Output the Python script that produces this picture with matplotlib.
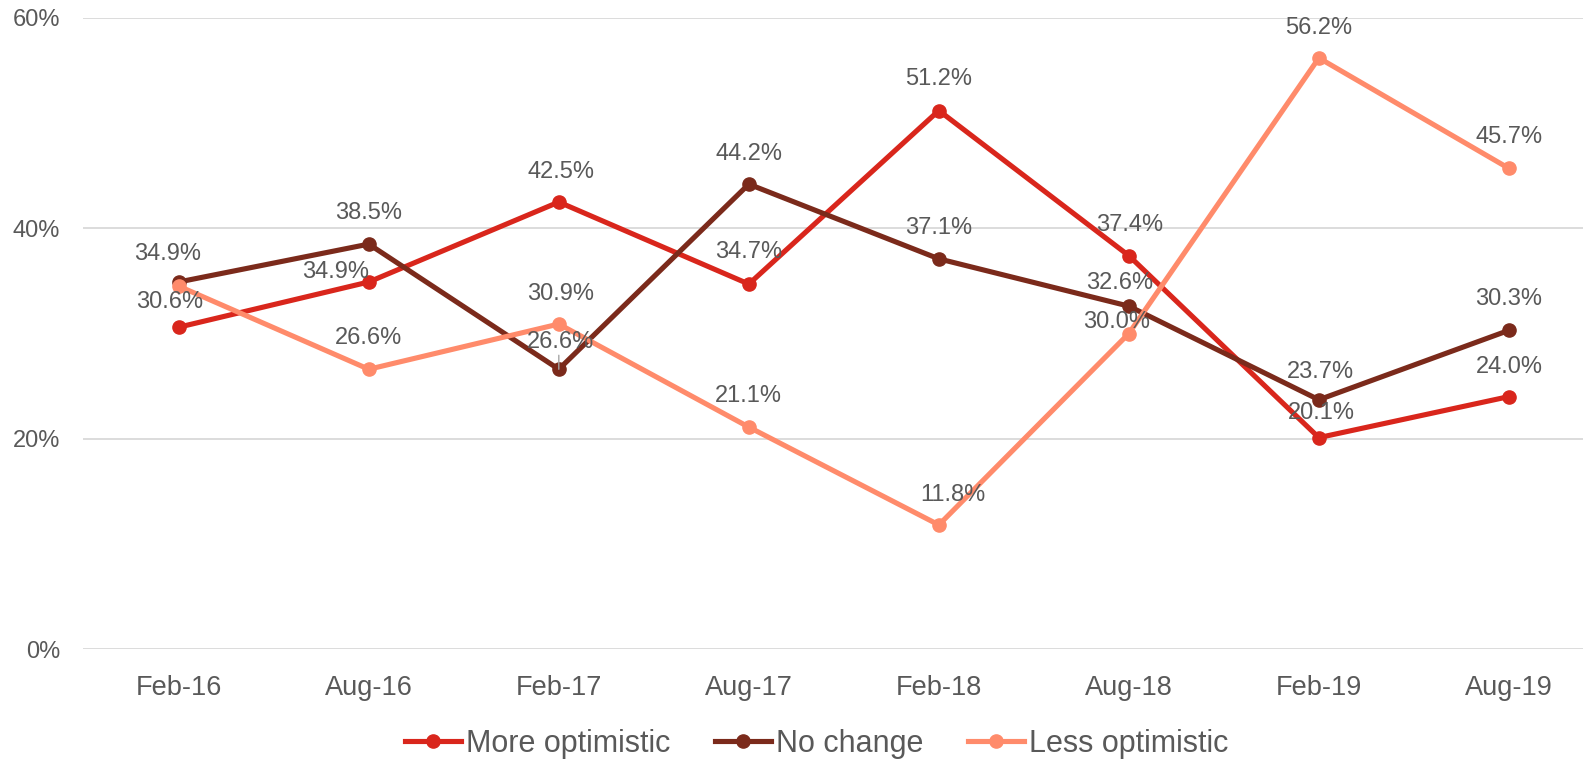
import matplotlib
matplotlib.use("Agg")
import matplotlib.pyplot as plt

plt.rcParams['font.family'] = ['Liberation Sans', 'DejaVu Sans']

categories = ["Feb-16", "Aug-16", "Feb-17", "Aug-17", "Feb-18", "Aug-18", "Feb-19", "Aug-19"]
more_optimistic = [30.6, 34.9, 42.5, 34.7, 51.2, 37.4, 20.1, 24.0]
no_change = [34.9, 38.5, 26.6, 44.2, 37.1, 32.6, 23.7, 30.3]
less_optimistic = [34.5, 26.6, 30.9, 21.1, 11.8, 30.0, 56.2, 45.7]
yticks = [0, 20, 40, 60]

series = [
    ("More optimistic", more_optimistic, "#D9261C"),
    ("No change", no_change, "#7B2A1B"),
    ("Less optimistic", less_optimistic, "#FF8B6B"),
]
# label offsets in pixels (dx, dy); None = no label
label_offsets = {
    "More optimistic": [(-9, 25), (-33, 10), (2, 30), (0, 32), (0, 32), (1, 31), (2, 25), (0, 30)],
    "No change": [(-11, 28), (0, 31), (2, 27), (0, 30), (0, 31), (-9, 23), (2, 28), (0, 31)],
    "Less optimistic": [None, (0, 31), (2, 30), (0, 31), (14, 30), (-12, 11), (0, 30), (0, 31)],
}

W, H = 1583, 762
fig = plt.figure(figsize=(W/100, H/100), dpi=100)
ax = fig.add_axes([83/W, 1-649/H, 1-83/W, (649-18)/H])
x = list(range(len(categories)))

for name, vals, col in series:
    ax.plot(x, vals, color=col, lw=3.7, marker='o', ms=9.5, label=name, zorder=3,
            solid_joinstyle='round')

for name, vals, col in series:
    for i, v in enumerate(vals):
        off = label_offsets[name][i]
        if off is None:
            continue
        ax.annotate(f"{v:.1f}%", (i, v), xytext=off, textcoords='offset pixels',
                    ha='center', va='center', fontsize=17, color='#595959', zorder=5)

# small leader line for moved label (Feb-17, No change)
ax.annotate("", (2, no_change[2]), xytext=(0, 14), textcoords='offset pixels',
            arrowprops=dict(arrowstyle='-', color='#A6A6A6', lw=1, shrinkA=0, shrinkB=0),
            zorder=4)

ax.set_xlim(-0.504, 7.39)
ax.set_ylim(0, 60)
ax.set_yticks(yticks)
ax.set_yticklabels([f"{t}%" for t in yticks])
ax.set_xticks(x)
ax.set_xticklabels(categories)
ax.tick_params(axis='both', length=0, labelcolor='#595959')
ax.tick_params(axis='y', pad=16.5, labelsize=17)
ax.tick_params(axis='x', pad=19, labelsize=19.5)
ax.grid(axis='y', color='#D9D9D9', lw=1.3)
ax.set_axisbelow(True)
for s in ax.spines.values():
    s.set_visible(False)

leg = fig.legend(loc='center', bbox_to_anchor=(0.516, 0.024), ncol=3, frameon=False,
                 fontsize=22, handlelength=1.83, handletextpad=0.16, columnspacing=1.47,
                 labelcolor='#595959', borderaxespad=0, borderpad=0)

fig.savefig("out.png", dpi=100)
